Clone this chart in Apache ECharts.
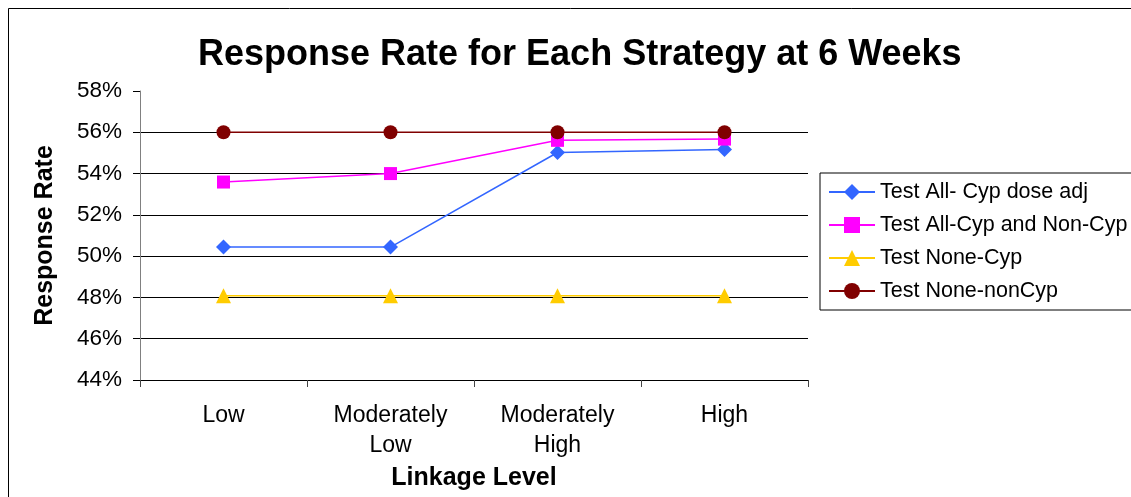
<!DOCTYPE html>
<html>
<head>
<meta charset="utf-8">
<style>
  html, body { margin: 0; padding: 0; background: #fff; }
  #chart { width: 1131px; height: 497px; }
</style>
<script src="https://cdn.jsdelivr.net/npm/echarts@6/dist/echarts.min.js"></script>
</head>
<body>
<div id="chart"></div>
<script>
// Data (response rate, %)
var linkageLevels = ['Low', 'Moderately Low', 'Moderately High', 'High'];
var testAllCypDoseAdj = [50.44, 50.44, 55.02, 55.17];
var testAllCypNonCyp = [53.59, 54.0, 55.61, 55.67];
var testNoneCyp = [48.08, 48.08, 48.08, 48.08];
var testNoneNonCyp = [56.0, 56.0, 56.0, 56.0];
var seriesNames = ['Test All- Cyp dose adj', 'Test All-Cyp and Non-Cyp', 'Test None-Cyp', 'Test None-nonCyp'];

var FONT = '"Liberation Sans", Arial, sans-serif';

function makeSeries(name, data, color, symbol, size) {
    return {
        name: name,
        type: 'line',
        data: data,
        symbol: symbol,
        symbolSize: size,
        showSymbol: true,
        lineStyle: { color: color, width: 1.5 },
        itemStyle: { color: color },
        emphasis: { disabled: true },
        animation: false
    };
}

var chart = echarts.init(document.getElementById('chart'));

chart.setOption({
    backgroundColor: '#ffffff',
    textStyle: { fontFamily: FONT },
    title: {
        text: 'Response Rate for Each Strategy at 6 Weeks',
        left: 193,
        top: 32,
        textStyle: { fontFamily: FONT, fontSize: 36, fontWeight: 'bold', color: '#000' }
    },
    graphic: [{
        type: 'rect',
        shape: { x: 8.5, y: 8.5, width: 1140, height: 500 },
        style: { fill: 'none', stroke: '#000', lineWidth: 1 },
        silent: true
    }],
    legend: {
        orient: 'vertical',
        left: 820,
        top: 173,
        padding: [8, 20, 8, 8],
        itemGap: 11,
        itemWidth: 46,
        itemHeight: 20,
        borderColor: '#000',
        borderWidth: 1,
        textStyle: { fontFamily: FONT, fontSize: 21.5, color: '#000' },
        data: seriesNames
    },
    grid: { left: 140, right: 323, top: 91, bottom: 117 },
    xAxis: {
        type: 'category',
        data: linkageLevels,
        boundaryGap: true,
        name: 'Linkage Level',
        nameLocation: 'middle',
        nameGap: 82,
        nameTextStyle: { fontFamily: FONT, fontSize: 25, fontWeight: 'bold', color: '#000' },
        axisLine: { lineStyle: { color: '#000', width: 1 } },
        axisTick: { show: true, length: 7, alignWithLabel: false, lineStyle: { color: '#444' } },
        axisLabel: {
            margin: 21,
            fontSize: 23,
            lineHeight: 30,
            color: '#000',
            formatter: function (v) { return v.replace(' ', '\n'); }
        }
    },
    yAxis: {
        type: 'value',
        min: 44,
        max: 58,
        interval: 2,
        name: 'Response Rate',
        nameLocation: 'middle',
        nameGap: 82,
        nameRotate: 90,
        nameTextStyle: { fontFamily: FONT, fontSize: 25, fontWeight: 'bold', color: '#000' },
        axisLine: { show: true, lineStyle: { color: '#808080', width: 1 } },
        axisTick: { show: true, length: 7, lineStyle: { color: '#000' } },
        axisLabel: {
            margin: 18,
            fontSize: 22.5,
            color: '#000',
            formatter: function (v) { return v + '%'; }
        },
        splitLine: {
            show: true,
            lineStyle: {
                color: ['#000', '#000', '#000', '#000', '#000', '#000', '#000', 'rgba(0,0,0,0)'],
                width: 1
            }
        }
    },
    series: [
        makeSeries(seriesNames[0], testAllCypDoseAdj, '#3366FF', 'diamond', 15),
        makeSeries(seriesNames[1], testAllCypNonCyp, '#FF00FF', 'rect', 13),
        makeSeries(seriesNames[2], testNoneCyp, '#FFCC00', 'triangle', 15),
        makeSeries(seriesNames[3], testNoneNonCyp, '#800000', 'circle', 14)
    ]
});
</script>
</body>
</html>
